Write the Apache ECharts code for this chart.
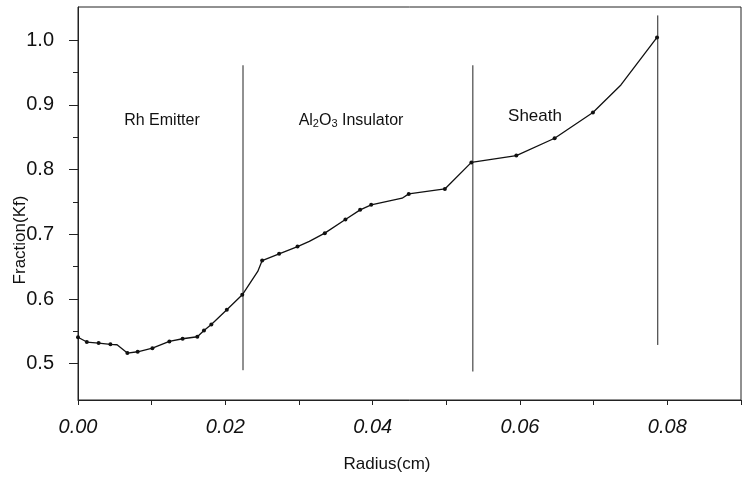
<!DOCTYPE html>
<html>
<head>
<meta charset="utf-8">
<script src="https://cdn.jsdelivr.net/npm/echarts@6/dist/echarts.min.js"></script>
<style>
html,body{margin:0;padding:0;background:#fff;}
#chart{width:748px;height:477px;}
</style>
</head>
<body>
<div id="chart"></div>
<script>
// ---- data ----
const radius = [0, 0.0012, 0.0028, 0.0044, 0.0053, 0.0067, 0.0081, 0.0101, 0.0124, 0.0142, 0.0162, 0.0171, 0.0181, 0.0202, 0.0223,
  0.0244, 0.0250, 0.0273, 0.0298, 0.0314, 0.0335, 0.0363, 0.0383, 0.0398, 0.0440, 0.0449, 0.0498, 0.0534,
  0.0595, 0.0647, 0.0699, 0.0737, 0.0786];
const fraction = [0.541, 0.5335, 0.532, 0.530, 0.5293, 0.5165, 0.5185, 0.524, 0.5345, 0.5386, 0.5417, 0.5514, 0.5606, 0.5833, 0.6065,
  0.6425, 0.6594, 0.6698, 0.681, 0.689, 0.7017, 0.7228, 0.7377, 0.7454, 0.7557, 0.7623, 0.770, 0.811,
  0.8215, 0.8483, 0.888, 0.9306, 1.004];
const hasMarker = [1,1,1,1,0,1,1,1,1,1,1,1,1,1,1, 0,1,1,1,0,1,1,1,1,0,1,1,1, 1,1,1,0,1];

const dividerX = [0.0224, 0.0536, 0.0787];
const dividerTop = [0.961, 0.961, 1.038];
const dividerBottom = [0.490, 0.488, 0.529];

const xLabelValues = [0, 0.02, 0.04, 0.06, 0.08];
const xTickValues = [0, 0.01, 0.02, 0.03, 0.04, 0.05, 0.06, 0.07, 0.08, 0.09];
const yLabelValues = [0.5, 0.6, 0.7, 0.8, 0.9, 1.0];
const yMinorTickValues = [0.55, 0.65, 0.75, 0.85, 0.95];

const regionNames = ['Rh Emitter', 'Al{s|2}O{s|3} Insulator', 'Sheath'];
const xName = 'Radius(cm)';
const yName = 'Fraction(Kf)';

// ---- chart ----
const FONT = "'Liberation Sans', Arial, sans-serif";
const chart = echarts.init(document.getElementById('chart'), null, {renderer: 'canvas'});

const lineData = radius.map((x, i) => hasMarker[i]
  ? [x, fraction[i]]
  : {value: [x, fraction[i]], symbol: 'none'});

const dividerSeries = dividerX.map((x, i) => ({
  type: 'line',
  data: [[x, dividerBottom[i]], [x, dividerTop[i]]],
  showSymbol: false,
  lineStyle: {color: '#222', width: 1},
  silent: true,
  z: 2
}));

const option = {
  animation: false,
  backgroundColor: '#fff',
  grid: {left: 78, right: 7, top: 7, bottom: 77, show: true, borderColor: '#222', borderWidth: 1},
  xAxis: {
    type: 'value', min: 0, max: 0.09,
    axisLine: {show: true, lineStyle: {color: '#222', width: 1}},
    splitLine: {show: false},
    axisTick: {show: true, inside: false, length: 5, customValues: xTickValues, lineStyle: {color: '#222'}},
    axisLabel: {
      customValues: xLabelValues, margin: 17,
      formatter: v => v.toFixed(2),
      fontFamily: FONT, fontSize: 20, fontStyle: 'italic', color: '#111'
    }
  },
  yAxis: [{
    type: 'value', min: 0.444, max: 1.051,
    axisLine: {show: true, lineStyle: {color: '#222', width: 1}},
    splitLine: {show: false},
    axisTick: {show: true, inside: false, length: 9, customValues: yLabelValues, lineStyle: {color: '#222'}},
    axisLabel: {
      customValues: yLabelValues, margin: 24,
      formatter: v => v.toFixed(1),
      fontFamily: FONT, fontSize: 20, color: '#111'
    }
  }, {
    type: 'value', min: 0.444, max: 1.051, position: 'left',
    axisLine: {show: false}, splitLine: {show: false},
    axisTick: {show: true, inside: false, length: 5, customValues: yMinorTickValues, lineStyle: {color: '#222'}},
    axisLabel: {show: false}
  }],
  graphic: [
    {type: 'text', x: 20, y: 240, rotation: Math.PI / 2,
      style: {text: yName, font: '17px ' + FONT, fill: '#111', align: 'center', verticalAlign: 'middle'}},
    {type: 'text', x: 387, y: 464,
      style: {text: xName, font: '17px ' + FONT, fill: '#111', align: 'center', verticalAlign: 'middle'}},
    {type: 'text', x: 162, y: 121,
      style: {text: regionNames[0], font: '16px ' + FONT, fill: '#111', align: 'center', verticalAlign: 'middle'}},
    {type: 'text', x: 351, y: 121,
      style: {text: regionNames[1], fontFamily: FONT, fontSize: 16, fill: '#111', align: 'center', verticalAlign: 'middle',
        rich: {s: {fontFamily: FONT, fontSize: 11, fill: '#111', verticalAlign: 'bottom', padding: [5, 0, 0, 0]}}}},
    {type: 'text', x: 535, y: 116,
      style: {text: regionNames[2], font: '17px ' + FONT, fill: '#111', align: 'center', verticalAlign: 'middle'}}
  ],
  series: [{
    type: 'line',
    data: lineData,
    symbol: 'circle',
    symbolSize: 4,
    itemStyle: {color: '#111'},
    lineStyle: {color: '#111', width: 1.3},
    z: 3
  }].concat(dividerSeries)
};
chart.setOption(option);
</script>
</body>
</html>
